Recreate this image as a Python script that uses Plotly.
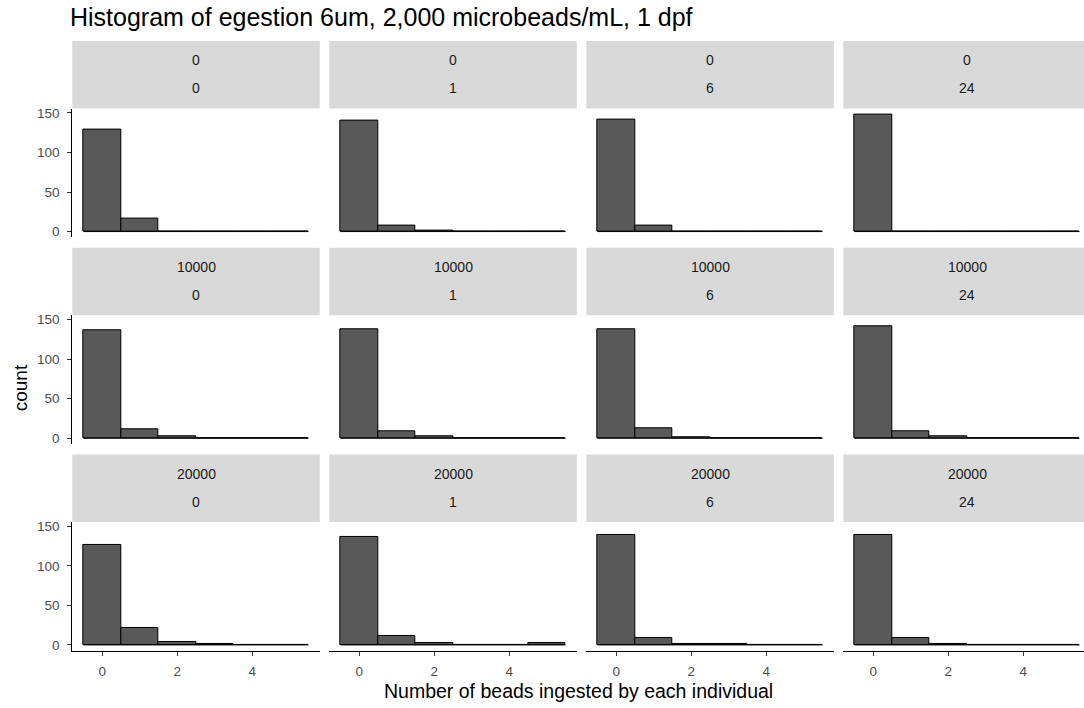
import plotly.graph_objects as go

# Facet levels: microbead concentration (rows) and hours post exposure (columns)
conc_levels = ["0", "10000", "20000"]
hour_levels = ["0", "1", "6", "24"]

# Bin centres (number of beads ingested) and counts per facet
bins = [0, 1, 2, 3, 4, 5]
counts = {
    ("0", "0"):      [129, 17, 0, 0, 0, 0],
    ("0", "1"):      [140, 7, 1, 0, 0, 0],
    ("0", "6"):      [141, 8, 0, 0, 0, 0],
    ("0", "24"):     [148, 0, 0, 0, 0, 0],
    ("10000", "0"):  [136, 11, 3, 0, 0, 0],
    ("10000", "1"):  [138, 9, 3, 0, 0, 0],
    ("10000", "6"):  [138, 12, 1, 0, 0, 0],
    ("10000", "24"): [142, 9, 2, 0, 0, 0],
    ("20000", "0"):  [126, 21, 4, 1, 0, 0],
    ("20000", "1"):  [137, 11, 2, 0, 0, 2],
    ("20000", "6"):  [139, 9, 1, 1, 0, 0],
    ("20000", "24"): [139, 9, 1, 0, 0, 0],
}

y_ticks = [0, 50, 100, 150]
x_ticks = [0, 2, 4]

title = "Histogram of egestion 6um, 2,000 microbeads/mL, 1 dpf"
x_title = "Number of beads ingested by each individual"
y_title = "count"

W, H = 1084, 708
FONT = "Liberation Sans"
BAR_FILL = "#595959"
STRIP_FILL = "#D9D9D9"

# Geometry (pixels)
x_px_per_unit = 37.5
x_lo, x_hi = bins[0] - 0.5, bins[-1] + 0.5
x_pad = 0.05 * (x_hi - x_lo)
x_range = [x_lo - x_pad, x_hi + x_pad]
col_zero = [102.3 + 257 * c for c in range(4)]

ymax = max(max(v) for v in counts.values())
y_range = [-0.05 * ymax, 1.05 * ymax]
y_px_per_unit = 0.797
row_zero = [230.2 + 208.15 * r for r in range(3)]
strip_h = 68


def px_x(p):
    return p / W


def px_y(p):
    return 1 - p / H


fig = go.Figure()
shapes, annotations = [], []

for r, conc in enumerate(conc_levels):
    z = row_zero[r]
    top = z - y_range[1] * y_px_per_unit
    bot = z - y_range[0] * y_px_per_unit
    for c, hour in enumerate(hour_levels):
        idx = r * 4 + c + 1
        xa = "x" if idx == 1 else f"x{idx}"
        ya = "y" if idx == 1 else f"y{idx}"
        left = col_zero[c] + x_range[0] * x_px_per_unit
        right = col_zero[c] + x_range[1] * x_px_per_unit
        xr = list(x_range)
        if right > W:
            xr[1] = x_range[1] - (right - W) / x_px_per_unit
            right = W

        fig.add_trace(go.Bar(
            x=bins, y=counts[(conc, hour)], width=1,
            marker=dict(color=BAR_FILL, line=dict(color="black", width=1)),
            xaxis=xa, yaxis=ya, showlegend=False, hoverinfo="x+y",
        ))
        # outline of the empty bins along zero
        fig.add_trace(go.Scatter(
            x=[x_lo, x_hi], y=[0, 0], mode="lines",
            line=dict(color="black", width=1),
            xaxis=xa, yaxis=ya, showlegend=False, hoverinfo="skip",
        ))

        bottom_row = r == len(conc_levels) - 1
        first_col = c == 0
        fig.layout[xa.replace("x", "xaxis")] = dict(
            domain=[px_x(left), px_x(right)], range=xr, anchor=ya,
            showgrid=False, zeroline=False, fixedrange=True,
            showline=bottom_row, linecolor="black", linewidth=1,
            ticks="outside" if bottom_row else "", ticklen=4,
            tickcolor="#333333", tickwidth=1, ticklabelstandoff=4,
            tickvals=x_ticks, showticklabels=bottom_row,
            tickfont=dict(family=FONT, size=13.5, color="#4D4D4D"),
        )
        fig.layout[ya.replace("y", "yaxis")] = dict(
            domain=[px_y(bot), px_y(top)], range=y_range, anchor=xa,
            showgrid=False, zeroline=False, fixedrange=True,
            showline=first_col, linecolor="black", linewidth=1,
            ticks="outside" if first_col else "", ticklen=4,
            tickcolor="#333333", tickwidth=1, ticklabelstandoff=5,
            tickvals=y_ticks, showticklabels=first_col,
            tickfont=dict(family=FONT, size=13.5, color="#4D4D4D"),
        )

        # facet strip
        s_top = top - strip_h
        shapes.append(dict(
            type="rect", xref="paper", yref="paper", layer="below",
            x0=px_x(left), x1=px_x(right), y0=px_y(top), y1=px_y(s_top),
            fillcolor=STRIP_FILL, line=dict(width=0),
        ))
        cx = px_x((left + col_zero[c] + x_range[1] * x_px_per_unit) / 2)
        for k, lab in enumerate([conc, hour]):
            annotations.append(dict(
                text=lab, xref="paper", yref="paper", showarrow=False,
                x=cx, y=px_y(s_top + 19.5 + 28 * k),
                xanchor="center", yanchor="middle",
                font=dict(family=FONT, size=14, color="#1A1A1A"),
            ))

annotations.append(dict(
    text=title, xref="paper", yref="paper", showarrow=False,
    x=px_x(68), y=px_y(14), xanchor="left", yanchor="middle",
    font=dict(family=FONT, size=25, color="black"),
))
annotations.append(dict(
    text=x_title, xref="paper", yref="paper", showarrow=False,
    x=px_x(578), y=px_y(693), xanchor="center", yanchor="middle",
    font=dict(family=FONT, size=19.5, color="black"),
))
annotations.append(dict(
    text=y_title, xref="paper", yref="paper", showarrow=False, textangle=-90,
    x=px_x(20), y=px_y(388), xanchor="center", yanchor="middle",
    font=dict(family=FONT, size=19, color="black"),
))

fig.update_layout(
    width=W, height=H, margin=dict(l=0, r=0, t=0, b=0),
    paper_bgcolor="white", plot_bgcolor="white",
    shapes=shapes, annotations=annotations, bargap=0,
    font=dict(family=FONT),
)

fig.write_html("out.html")
